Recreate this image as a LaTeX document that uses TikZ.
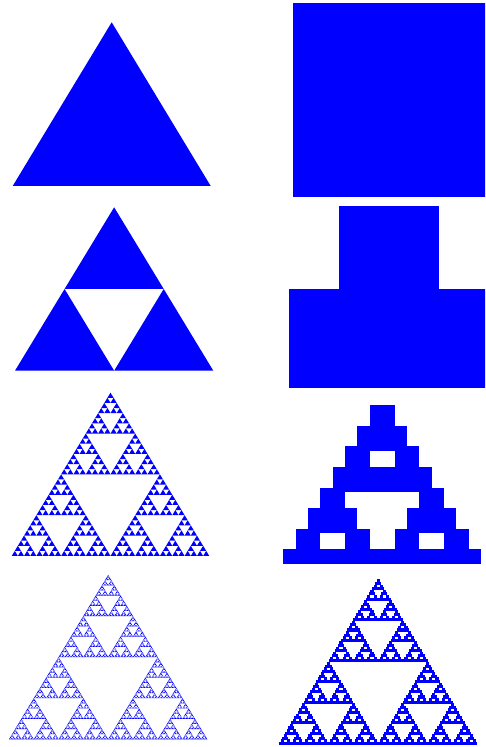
\documentclass[tikz,border=0pt]{standalone}
\usepackage{tikz}

% level, x, y, width, height
\newcommand\sierptri[5]{%
  \ifnum#1=0
    \fill[fractal] (#2,#3) -- ++(#4,0) -- ++(-#4/2,#5) -- cycle;
  \else
    \begingroup
      \pgfmathtruncatemacro\lvl{#1-1}%
      \pgfmathsetmacro\hw{#4/2}%
      \pgfmathsetmacro\hh{#5/2}%
      \pgfmathsetmacro\xr{#2+\hw}%
      \pgfmathsetmacro\xm{#2+\hw/2}%
      \pgfmathsetmacro\ym{#3+\hh}%
      \edef\next{%
        \noexpand\sierptri{\lvl}{#2}{#3}{\hw}{\hh}%
        \noexpand\sierptri{\lvl}{\xr}{#3}{\hw}{\hh}%
        \noexpand\sierptri{\lvl}{\xm}{\ym}{\hw}{\hh}}%
      \next
    \endgroup
  \fi}

% level, x, y, width, height, rise of the top copy
\newcommand\sierpsq[6]{%
  \ifnum#1=0
    \fill[fractal] (#2,#3) rectangle ++(#4,#5);
  \else
    \begingroup
      \pgfmathtruncatemacro\lvl{#1-1}%
      \pgfmathsetmacro\hw{#4/2}%
      \pgfmathsetmacro\hh{#5/2}%
      \pgfmathsetmacro\hd{#6/2}%
      \pgfmathsetmacro\xr{#2+\hw}%
      \pgfmathsetmacro\xm{#2+\hw/2}%
      \pgfmathsetmacro\ym{#3+#6}%
      \edef\next{%
        \noexpand\sierpsq{\lvl}{#2}{#3}{\hw}{\hh}{\hd}%
        \noexpand\sierpsq{\lvl}{\xr}{#3}{\hw}{\hh}{\hd}%
        \noexpand\sierpsq{\lvl}{\xm}{\ym}{\hw}{\hh}{\hd}}%
      \next
    \endgroup
  \fi}

\begin{document}
\begin{tikzpicture}[
  x=1pt, y=1pt,
  fractal/.style = {fill=blue},
]
\useasboundingbox (0,0) rectangle (485,747);
\clip (0,0) rectangle (485,747);

% triangles
\sierptri{0}{12.7}{561}{198}{163.7}
\sierptri{1}{15}{376.3}{198.3}{163.4}
\sierptri{5}{11.7}{191}{197.6}{163.3}
\sierptri{7}{9}{7.7}{198.3}{164.3}

% squares
\sierpsq{0}{292.7}{549.7}{203}{194.6}{0}
\sierpsq{1}{289.3}{359.3}{200}{198}{82.7}
\begin{scope}
  \clip (270,183.7) rectangle (485,380);
  \sierpsq{3}{283.3}{172.6}{197.7}{200}{82.5}
\end{scope}
\sierpsq{6}{279}{2}{198.3}{198}{82.5}

\end{tikzpicture}
\end{document}
